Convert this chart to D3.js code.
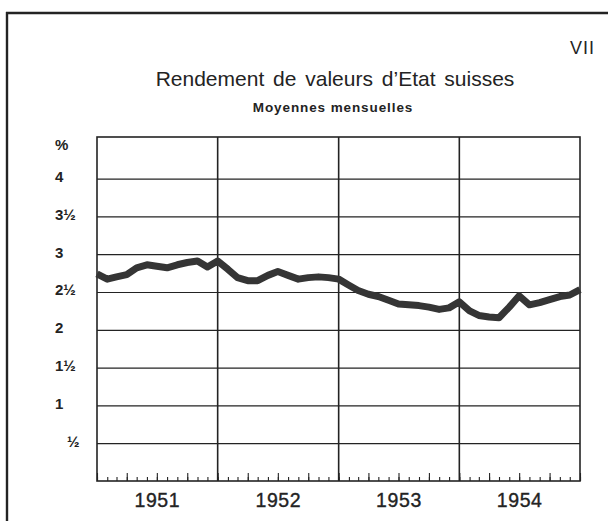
<!DOCTYPE html>
<html>
<head>
<meta charset="utf-8">
<script src="https://cdn.jsdelivr.net/npm/d3@7"></script>
<style>
  html, body { margin: 0; padding: 0; background: #fff; }
  svg { display: block; font-family: "Liberation Sans", Arial, sans-serif; }
</style>
</head>
<body>
<div id="chart"></div>
<script>
// monthly averages, Jan 1951 .. Jan 1955 (points sit on month boundaries)
const yieldValues = [
	2.74, 2.67, 2.70, 2.73, 2.82, 2.86, 2.84, 2.82, 2.86, 2.89, 2.91, 2.83,
	2.91, 2.80, 2.69, 2.65, 2.65, 2.72, 2.77, 2.72, 2.67, 2.69, 2.70, 2.69,
	2.67, 2.59, 2.52, 2.47, 2.44, 2.39, 2.34, 2.33, 2.32, 2.30, 2.27, 2.29,
	2.37, 2.25, 2.19, 2.17, 2.16, 2.30, 2.45, 2.33, 2.36, 2.40, 2.44, 2.46,
	2.53
];
const years = [1951, 1952, 1953, 1954];
const yTickValues = [0.5, 1, 1.5, 2, 2.5, 3, 3.5, 4];
const yTickLabels = ['½', '1', '1½', '2', '2½', '3', '3½', '4'];

const W = 608, H = 521;
const margin = {top: 137, right: 28, bottom: 40, left: 97};
const width = W - margin.left - margin.right;
const height = H - margin.top - margin.bottom;
const ink = '#232323';

const svg = d3.select('#chart').append('svg')
	.attr('width', W)
	.attr('height', H);

// page frame: heavy top rule and left rule
svg.append('line')
	.attr('x1', 6).attr('x2', W).attr('y1', 13).attr('y2', 13)
	.attr('stroke', ink).attr('stroke-width', 2.6);
svg.append('line')
	.attr('x1', 7).attr('x2', 7).attr('y1', 12).attr('y2', H)
	.attr('stroke', ink).attr('stroke-width', 2.4);

svg.append('text')
	.attr('x', 595).attr('y', 54)
	.attr('text-anchor', 'end')
	.attr('font-size', 18)
	.attr('letter-spacing', 1)
	.attr('fill', ink)
	.text('VII');

svg.append('text')
	.attr('x', 335).attr('y', 86)
	.attr('text-anchor', 'middle')
	.attr('font-size', 21)
	.attr('word-spacing', 3)
	.attr('fill', ink)
	.text('Rendement de valeurs d\u2019Etat suisses');

svg.append('text')
	.attr('x', 333).attr('y', 112)
	.attr('text-anchor', 'middle')
	.attr('font-size', 13.5)
	.attr('font-weight', 'bold')
	.attr('letter-spacing', 0.9)
	.attr('fill', ink)
	.text('Moyennes mensuelles');

const g = svg.append('g')
	.attr('transform', `translate(${margin.left}, ${margin.top})`);

const months = d3.range(years.length * 12 + 1).map(i => new Date(years[0], i, 1));

const xScale = d3.scaleTime()
	.domain([months[0], months[months.length - 1]])
	.range([0, width]);

const yScale = d3.scaleLinear()
	.domain([0, 4.55])
	.range([height, 0]);

// horizontal grid + y labels
const yAxis = d3.axisLeft(yScale)
	.tickValues(yTickValues)
	.tickSize(-width)
	.tickFormat((d, i) => yTickLabels[i]);

const yG = g.append('g').call(yAxis);
yG.select('.domain').remove();
yG.selectAll('.tick line').attr('stroke', ink).attr('stroke-width', 1.2);
yG.selectAll('.tick text')
	.attr('x', d => d === 0.5 ? -30 : -42)
	.attr('dy', '0.2em')
	.attr('text-anchor', 'start')
	.attr('font-size', 15)
	.attr('font-weight', 'bold')
	.attr('fill', ink)
	.attr('font-family', '"Liberation Sans", Arial, sans-serif');

g.append('text')
	.attr('x', -42).attr('y', 13)
	.attr('font-size', 15)
	.attr('font-weight', 'bold')
	.attr('fill', ink)
	.text('%');

// year dividers
g.selectAll('.divider')
	.data(years.slice(1))
	.enter()
	.append('line')
	.attr('class', 'divider')
	.attr('x1', d => xScale(new Date(d, 0, 1)))
	.attr('x2', d => xScale(new Date(d, 0, 1)))
	.attr('y1', 0).attr('y2', height)
	.attr('stroke', ink).attr('stroke-width', 1.6);

// month ticks (short) and quarter ticks (longer), pointing up from the base
const monthAxis = d3.axisBottom(xScale)
	.ticks(d3.timeMonth.every(1))
	.tickSize(-4)
	.tickFormat('');
const quarterAxis = d3.axisBottom(xScale)
	.ticks(d3.timeMonth.every(3))
	.tickSize(-8)
	.tickFormat('');

[monthAxis, quarterAxis].forEach(ax => {
	const a = g.append('g')
		.attr('transform', `translate(0, ${height})`)
		.call(ax);
	a.select('.domain').remove();
	a.selectAll('.tick line').attr('stroke', ink).attr('stroke-width', 1.1);
});

// year labels centred in each year
const yearAxis = d3.axisBottom(xScale)
	.tickValues(years.map(y => new Date(y, 6, 1)))
	.tickSize(0)
	.tickPadding(12)
	.tickFormat(d3.timeFormat('%Y'));

const xG = g.append('g')
	.attr('transform', `translate(0, ${height})`)
	.call(yearAxis);
xG.select('.domain').remove();
xG.selectAll('.tick text')
	.attr('font-size', 19.5)
	.attr('fill', ink)
	.attr('stroke', ink)
	.attr('stroke-width', 0.35)
	.attr('letter-spacing', 0.6)
	.attr('font-family', '"Liberation Sans", Arial, sans-serif');

// plot frame
g.append('rect')
	.attr('x', 0).attr('y', 0)
	.attr('width', width).attr('height', height)
	.attr('fill', 'none')
	.attr('stroke', ink).attr('stroke-width', 1.6);

// the yield line
const line = d3.line()
	.x((d, i) => xScale(months[i]))
	.y(d => yScale(d));

g.append('path')
	.datum(yieldValues)
	.attr('fill', 'none')
	.attr('stroke', '#353535')
	.attr('stroke-width', 7)
	.attr('stroke-linejoin', 'round')
	.attr('d', line);
</script>
</body>
</html>
